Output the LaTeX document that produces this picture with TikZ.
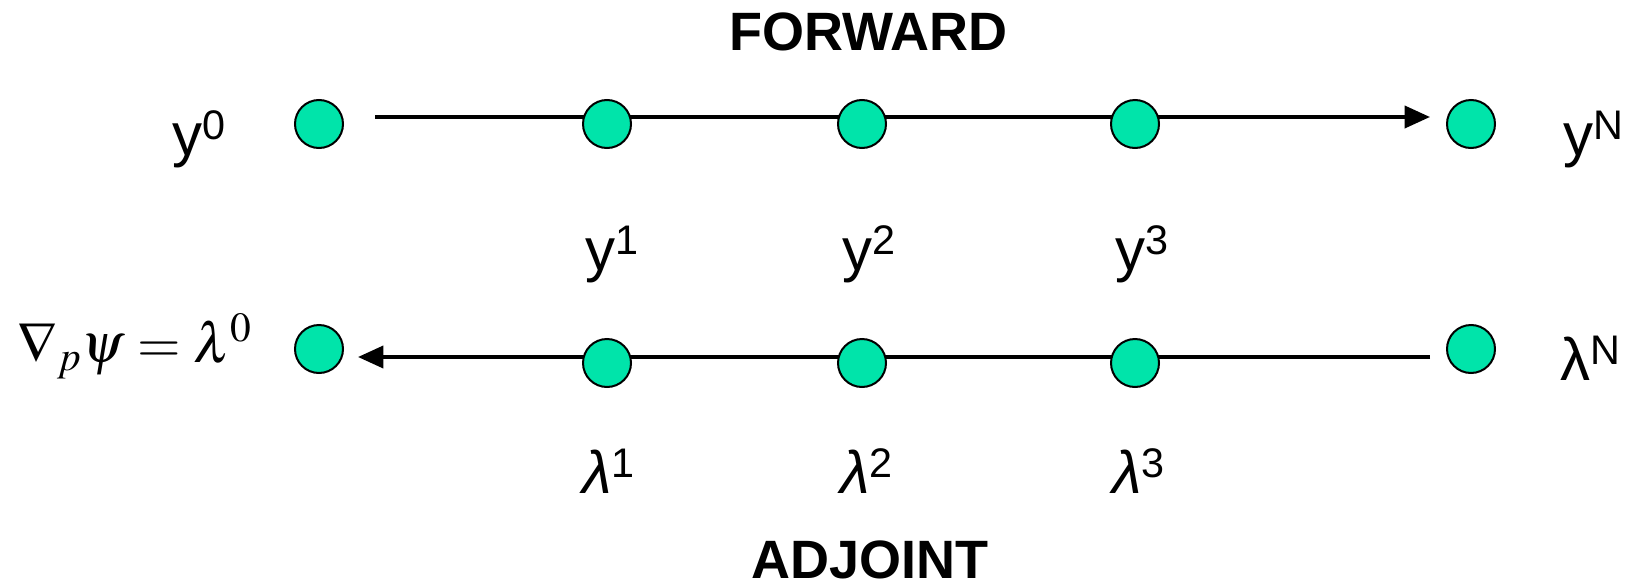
\documentclass[tikz,border=0pt]{standalone}
\usepackage{mathptmx}
\usepackage{fontspec}
\setmainfont{Liberation Sans}
\usetikzlibrary{arrows.meta}
\definecolor{dotgreen}{RGB}{0,228,170}
\newcommand\supr[1]{\raisebox{12pt}{\fontsize{31}{31}\selectfont #1}}
\tikzset{
  dot/.style={circle, draw=black, line width=1.5pt, fill=dotgreen, minimum size=36pt, inner sep=0pt},
  lbl/.style={font=\fontsize{45}{50}\selectfont, anchor=base west, inner sep=0pt},
  ttl/.style={font=\fontsize{40.5}{44}\selectfont\bfseries, anchor=base, inner sep=0pt},
  flow/.style={line width=2.8pt, -{Triangle[length=19pt,width=16.5pt]}}
}
\begin{document}
\begin{tikzpicture}[x=0.75pt,y=-0.75pt]
\useasboundingbox (0,0) rectangle (1629,582);
% connectors
\coordinate (fs) at (375,117);
\coordinate (fe) at (1430,117);
\coordinate (as) at (1430,357);
\coordinate (ae) at (358,357);
\draw[flow] (fs) -- (fe);
\draw[flow] (as) -- (ae);
% forward dots
\node[dot] (t0) at (319,124) {};
\node[dot] (t1) at (607,124) {};
\node[dot] (t2) at (862,124) {};
\node[dot] (t3) at (1135,124) {};
\node[dot] (tN) at (1471,124) {};
% adjoint dots
\node[dot] (b0) at (319,349) {};
\node[dot] (b1) at (607,363) {};
\node[dot] (b2) at (862,363) {};
\node[dot] (b3) at (1135,363) {};
\node[dot] (bN) at (1471,349) {};
% titles
\node[ttl] (fw) at (868,50) {FORWARD};
\node[ttl] (adj) at (870,578) {ADJOINT};
% labels
\node[lbl] (ly0) at (172,155) {y\supr{0}};
\node[lbl] (lyN) at (1563,155) {y\supr{N}};
\node[lbl] (ly1) at (585,270) {y\supr{1}};
\node[lbl] (ly2) at (842,270) {y\supr{2}};
\node[lbl] (ly3) at (1115,270) {y\supr{3}};
\node[lbl] (ll1) at (582,493) {\textit{λ}\supr{1}};
\node[lbl] (ll2) at (840,493) {\textit{λ}\supr{2}};
\node[lbl] (ll3) at (1112,493) {\textit{λ}\supr{3}};
\node[lbl] (llN) at (1560,380) {λ\supr{N}};
\node[anchor=base west, inner sep=0pt, font=\fontsize{42}{50}\selectfont] (grad) at (17,362) {$\nabla_{p}\psi=\lambda^{0}$};
\end{tikzpicture}
\end{document}
